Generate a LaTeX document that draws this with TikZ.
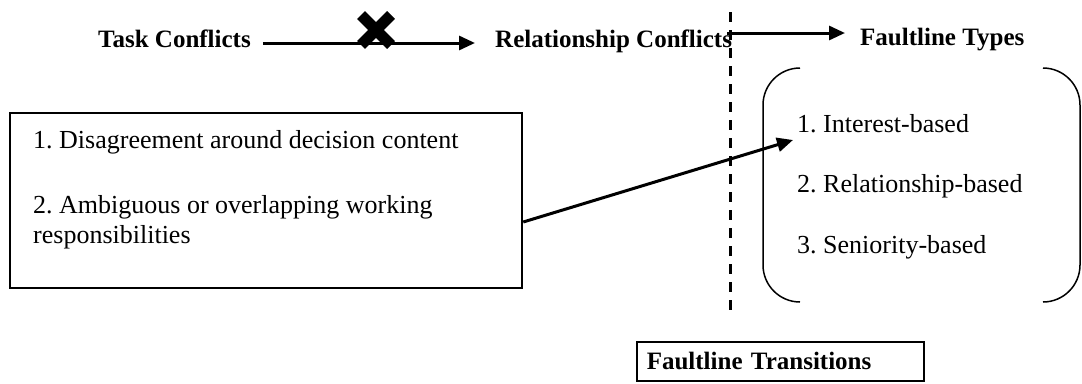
\documentclass[tikz,border=0pt]{standalone}
\usepackage{fontspec}
\setmainfont{Liberation Serif}
\usetikzlibrary{arrows.meta}
\frenchspacing
\begin{document}
\begin{tikzpicture}[x=1pt,y=-1pt,
  head/.style={font=\fontsize{25}{30}\selectfont\bfseries, inner sep=0pt, anchor=base west},
  item/.style={font=\fontsize{26}{31}\selectfont, inner sep=0pt, anchor=base west},
  link/.style={line width=3pt, -{Triangle[length=16pt,width=14pt]}},
  frame/.style={draw, line width=2.5pt},
  bracket/.style={line width=1.5pt},
  divider/.style={line width=3pt, dash pattern=on 10pt off 8pt},
]
\fill[white] (0,0) rectangle (1082,383);
\useasboundingbox (0,0) rectangle (1082,383);

% top row of headings
\node[head] (task) at (98,47) {Task Conflicts};
\node[head] (rel) at (495,47) {Relationship Conflicts};
\node[head] (ftypes) at (860,45) {Faultline Types};

\draw[link] ([shift={(12,-4)}]task.base east) -- ([shift={(-20,-4)}]rel.base west);
\draw[link] ([shift={(-5,-14)}]rel.base east) -- ([shift={(-15,-12)}]ftypes.base west);

% blocking cross on the first arrow
\coordinate (block) at (376,30);
\draw[line width=11pt] ([shift={(-15,-15)}]block) -- ([shift={(15,15)}]block);
\draw[line width=11pt] ([shift={(15,-15)}]block) -- ([shift={(-15,15)}]block);

% dashed divider
\coordinate (dtop) at (730,12);
\coordinate (dbot) at (730,315);
\draw[divider] (dtop) -- (dbot);

% task conflict box
\node[frame, minimum width=512pt, minimum height=175pt, inner sep=0pt] (taskbox) at (266,200.5) {};
\node[item] (t1) at (33,148) {1. Disagreement around decision content};
\node[item] (t2) at (33,213) {2. Ambiguous or overlapping working};
\node[item] (t3) at (33,243) {responsibilities};

% faultline types in brackets
\node[item] (i1) at (797,132) {1. Interest-based};
\node[item] (i2) at (797,192) {2. Relationship-based};
\node[item] (i3) at (797,253) {3. Seniority-based};
\draw[bracket] (800,68) .. controls (779.6,68) and (763,84.6) .. (763,105)
  -- (763,265) .. controls (763,285.4) and (779.6,302) .. (800,302);
\draw[bracket] (1043,68) .. controls (1063.4,68) and (1080,84.6) .. (1080,105)
  -- (1080,265) .. controls (1080,285.4) and (1063.4,302) .. (1043,302);

\draw[link] ([shift={(0,21.5)}]taskbox.east) -- ([shift={(-4,8)}]i1.base west);

% transitions label
\node[draw, line width=1.5pt, anchor=north west, minimum width=287pt, minimum height=39pt,
  inner xsep=10pt, inner ysep=0pt, text width=267pt, align=left,
  font=\fontsize{25}{30}\selectfont\bfseries] (ftrans) at (636,341) {Faultline Transitions};
\end{tikzpicture}
\end{document}
